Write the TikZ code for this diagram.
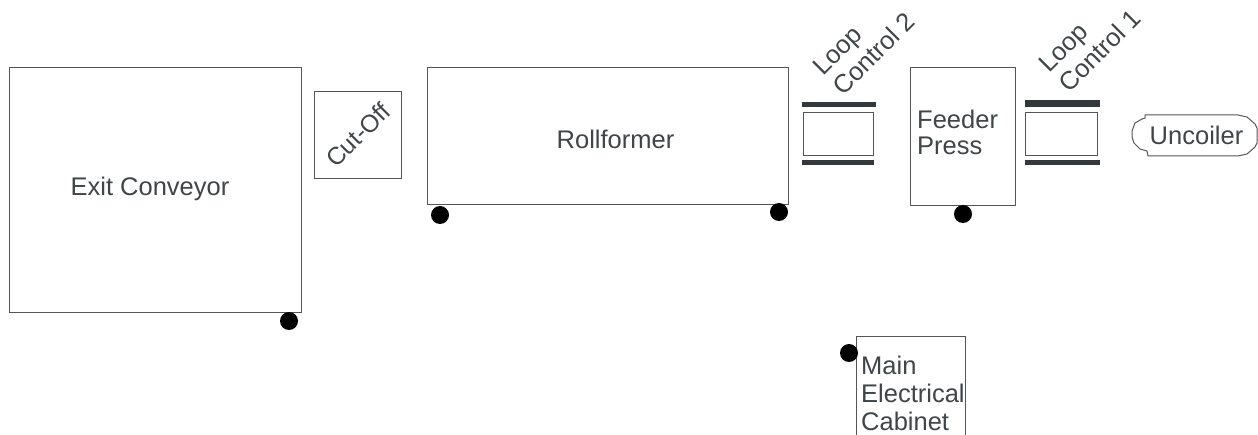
\documentclass[tikz,border=0pt]{standalone}
\usepackage{fontspec}
\setmainfont{Liberation Sans}
\definecolor{ink}{HTML}{404548}
\definecolor{edge}{HTML}{555555}
\definecolor{barc}{HTML}{33383B}
\tikzset{
  x=1pt,y=-1pt,
  box/.style={draw=edge,line width=1pt,fill=white},
  lab/.style={text=ink,font=\fontsize{25.5}{28}\selectfont,inner sep=0pt,align=left},
  loopl/.style={lab,rotate=45},
  bar/.style={fill=barc,draw=none},
  dot/.style={circle,fill=black,draw=none,minimum size=18pt,inner sep=0pt}
}
\begin{document}
\begin{tikzpicture}
\useasboundingbox (0,0) rectangle (1258,435);
\clip (0,0) rectangle (1258,435);
\node[box,minimum width=292pt,minimum height=245pt,inner sep=0pt] (exit) at (155,190.5) {};
\node[lab] (exitl) at (150,189) {Exit Conveyor};
\node[box,minimum width=87pt,minimum height=87pt,inner sep=0pt] (cut) at (357.5,135.5) {};
\node[lab,rotate=45,font=\fontsize{24.5}{28}\selectfont] (cutl) at (358,135) {Cut-Off};
\node[box,minimum width=360.5pt,minimum height=137pt,inner sep=0pt] (roll) at (607.75,136.5) {};
\node[lab] (rolll) at (615.5,139) {Rollformer};
\node[box,minimum width=70.4pt,minimum height=43.3pt,inner sep=0pt] (lc2) at (838.5,134.3) {};
\fill[bar] (802,102) rectangle (876,107);
\fill[bar] (802,160) rectangle (874,165);
\node[loopl] (lc2l) at (864,44) {Loop\\Control 2};
\node[box,minimum width=104.7pt,minimum height=137.6pt,inner sep=0pt] (feed) at (962.65,136.5) {};
\node[lab,anchor=north west,font=\fontsize{25.5}{26}\selectfont] (feedl) at (917,110) {Feeder\\Press};
\node[box,minimum width=72.4pt,minimum height=43.3pt,inner sep=0pt] (lc1) at (1061.5,134.3) {};
\fill[bar] (1025,100) rectangle (1100,107);
\fill[bar] (1025,160) rectangle (1100,165);
\node[loopl] (lc1l) at (1090,41) {Loop\\Control 1};
\draw[edge,line width=1pt,fill=white] (1145,115) -- (1238,115) -- (1247,117) -- (1255,124) -- (1257,128) -- (1257,143) -- (1255,147) -- (1247,154) -- (1238,156) -- (1148,156) -- (1147,151) -- (1140,149) -- (1134,143) -- (1132,137) -- (1132,131) -- (1135,123) -- (1142,119) -- (1145,118) -- cycle;
\node[lab] (uncl) at (1196.5,135) {Uncoiler};
\node[box,anchor=north west,minimum width=109pt,minimum height=120pt,inner sep=0pt] (cab) at (856,336) {};
\node[lab,anchor=north west] (cabl) at (861,355.5) {Main\\Electrical\\Cabinet};
\node[dot] (d1) at (289,321) {};
\node[dot] (d2) at (440,215) {};
\node[dot] (d3) at (779,212) {};
\node[dot] (d4) at (963,214) {};
\node[dot] (d5) at (849,353) {};
\end{tikzpicture}
\end{document}
